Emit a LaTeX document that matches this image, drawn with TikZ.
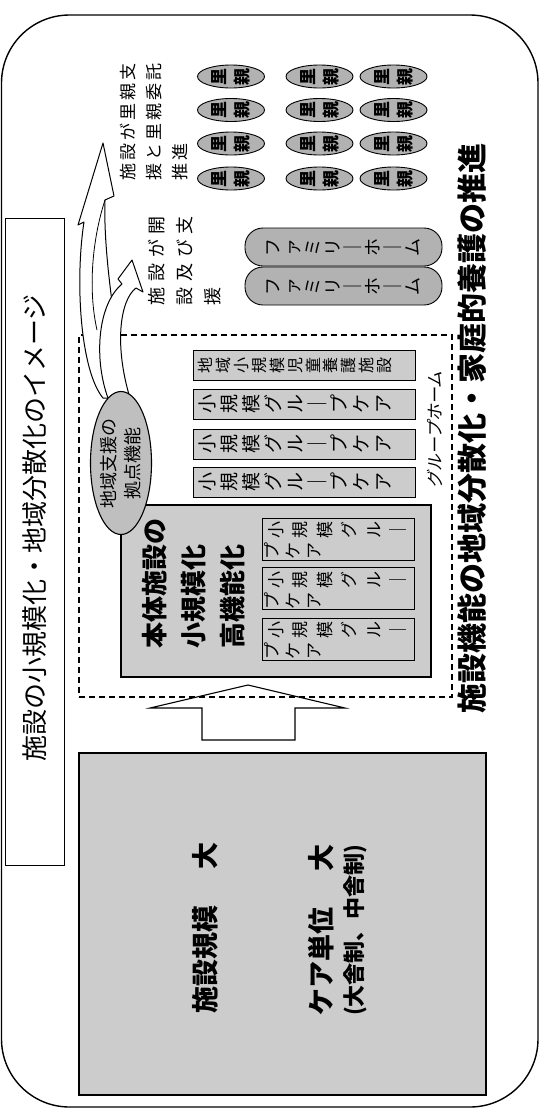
\documentclass[tikz,border=0pt]{standalone}
\usepackage{fontspec}
\setmainfont{Noto Sans CJK JP}
\newfontfamily\jpwideA[LetterSpace=33]{Noto Sans CJK JP}
\newfontfamily\jpwideB[LetterSpace=18]{Noto Sans CJK JP}
\newfontfamily\jpslant[FakeSlant=0.2]{Noto Sans CJK JP}
\usetikzlibrary{shapes.geometric}
\tikzset{
  jp/.style={rotate=90, inner sep=0pt, align=center},
  gbox/.style={draw, line width=1pt, fill=black!20, inner sep=0pt, rectangle},
  oval/.style={draw, line width=0.9pt, fill=black!30, ellipse, inner sep=0pt, minimum width=67pt, minimum height=23pt},
  capsule/.style={draw, line width=0.9pt, fill=black!30, rectangle, rounded corners=18pt, inner sep=0pt, minimum width=197pt, minimum height=38pt},
  curv/.style={draw, line width=1pt, fill=white, line join=round},
}
\begin{document}
\begin{tikzpicture}[x=1pt,y=-1pt]
\useasboundingbox (0,0) rectangle (541,1112);
% outer frame
\draw[line width=1.4pt, rounded corners=68pt] (1.5,15) rectangle (538,1107);

% title
\node[draw, line width=1pt, inner sep=0pt, minimum width=59pt, minimum height=647pt] (titlebox) at (34.5,541.5) {};
\node[jp, font=\fontsize{26}{26}\selectfont] (title) at (34.5,528) {施設の小規模化・地域分散化のイメージ};

% big box
\node[gbox, line width=1.2pt, minimum width=407pt, minimum height=342pt] (bigbox) at (282.5,924) {};
\node[jp, anchor=west, font=\fontsize{27}{27}\selectfont\bfseries] (scale) at (205,1014) {施設規模\hspace{36pt}大};
\node[jp, anchor=west, font=\fontsize{27}{27}\selectfont\bfseries] (unit) at (321,1016) {ケア単位\hspace{36pt}大};
\node[jp, anchor=west, font=\fontsize{22}{22}\selectfont\bfseries] (type) at (355,1016) {(大舎制、中舎制)};

% block arrow
\draw[line width=1.1pt, fill=white, line join=miter] (202,740) -- (202,708) -- (150,708) -- (248,685) -- (345,708) -- (295,708) -- (295,740) -- cycle;

% dashed box
\node[draw, dashed, dash pattern=on 6pt off 4pt, line width=1.3pt, inner sep=0pt, minimum width=373pt, minimum height=362pt] (dashbox) at (265.5,516) {};

% main facility box
\node[gbox, line width=1.3pt, minimum width=310pt, minimum height=172pt] (mainbox) at (276,591) {};
\node[jp, anchor=west, align=left, font=\fontsize{26}{39}\selectfont\bfseries] (maintext) at (194,649) {本体施設の\\小規模化\\高機能化};
\foreach \c/\n in {539/A,588.5/B,639/C}{
  \node[gbox, minimum width=152pt, minimum height=42pt] (sub\n) at (338,\c) {};
  \node[jp, anchor=north, font=\fontsize{17}{24.5}\selectfont] (sub\n a) at (268,\c-9) {小\\規\\模\\グ\\ル\\｜};
  \node[jp, anchor=north, font=\fontsize{17}{21}\selectfont] (sub\n b) at (264,\c+12) {プ\\ケ\\ア};
}

% group care boxes
\node[gbox, minimum width=222pt, minimum height=30pt] (g1) at (304,365) {};
\node[jp, anchor=north, font=\fontsize{16}{17.9}\selectfont] (g1t) at (198,365) {地\\域\\小\\規\\模\\児\\童\\養\\護\\施\\設};
\foreach \c [count=\k from 2] in {404,444,482}{
  \node[gbox, minimum width=222pt, minimum height=30pt] (g\k) at (304,\c) {};
  \node[jp, anchor=north, font=\fontsize{19}{22}\selectfont] (g\k t) at (198.5,\c) {小\\規\\模\\グ\\ル\\｜\\プ\\ケ\\ア};
}

% curved arrows
\draw[curv] (103,398) .. controls (80,370) and (75,280) .. (84,222) -- (78,225) -- (103,143) -- (114,196) -- (105,200) .. controls (103,260) and (118,340) .. (126,398) -- cycle;
\draw[line width=0.8pt] (105,200) .. controls (92,240) and (88,290) .. (97,330);
\draw[curv] (108,398) .. controls (94,360) and (97,305) .. (122,284) -- (118,279) -- (132,260) -- (143,292) -- (136,288) .. controls (120,300) and (114,345) .. (130,398) -- cycle;

% regional support ellipse
\node[draw, line width=1.1pt, fill=black!25, ellipse, inner sep=0pt, minimum width=61pt, minimum height=143pt] (hub) at (121,463) {};
\node[jp, font=\fontsize{18}{24}\selectfont] (hubtext) at (hub) {地域支援の\\拠点機能};

% labels
\node[jp, font=\jpslant\fontsize{17}{17}\selectfont] (gh) at (435,430) {グループホーム};
\node[jp, font=\fontsize{30}{30}\selectfont\bfseries] (bottomtitle) at (472,428) {施設機能の地域分散化・家庭的養護の推進};
\node[jp, anchor=west, align=left, font=\jpwideA\fontsize{18}{28}\selectfont] (open) at (185,306) {施設が開\\設及び支\\援};
\node[jp, anchor=west, align=left, font=\jpwideB\fontsize{17}{26}\selectfont] (foster) at (154,181) {施設が里親支\\援と里親委託\\推進};

% family homes
\node[capsule] (fh1) at (343.5,247) {};
\node[jp, font=\fontsize{18}{20}\selectfont] (fh1t) at (fh1) {フ\\ァ\\ミ\\リ\\｜\\ホ\\｜\\ム};
\node[capsule] (fh2) at (343.5,286) {};
\node[jp, font=\fontsize{18}{20}\selectfont] (fh2t) at (fh2) {フ\\ァ\\ミ\\リ\\｜\\ホ\\｜\\ム};

% foster parent ovals
\foreach \x [count=\i] in {231,319.5,393.5}{
  \foreach \y [count=\j] in {76.5,110,143.5,178.5}{
    \node[oval] (o\i\j) at (\x,\y) {};
    \node[jp, font=\fontsize{17}{23}\selectfont\bfseries] (ot\i\j) at (o\i\j) {里\\親};
  }
}
\end{tikzpicture}
\end{document}
